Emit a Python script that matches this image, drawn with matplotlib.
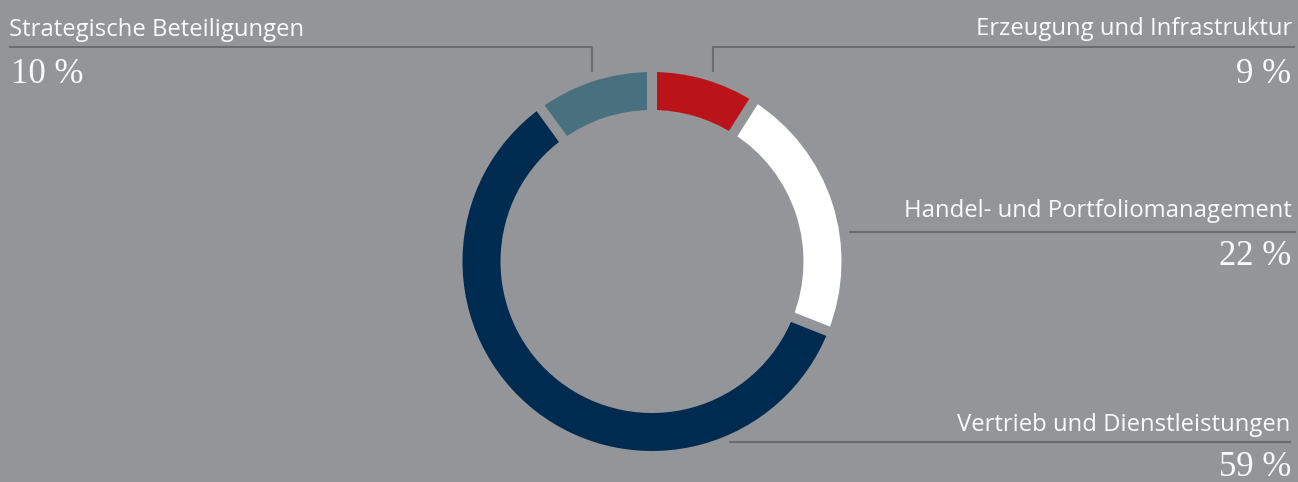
import matplotlib
matplotlib.use("Agg")
import matplotlib.pyplot as plt
import numpy as np

# Segment data (clockwise from 12 o'clock)
segments = ["Erzeugung und Infrastruktur", "Handel- und Portfoliomanagement",
            "Vertrieb und Dienstleistungen", "Strategische Beteiligungen"]
shares = [9, 22, 59, 10]
colors = ["#BA141A", "#FFFFFF", "#002B50", "#48707F"]

BG = "#939598"
LEADER = "#6B6C6F"
TXT = "#FAFAFA"

W, H = 1298, 482
fig = plt.figure(figsize=(W / 100, H / 100), dpi=100, facecolor=BG)
ax = fig.add_axes([0, 0, 1, 1])
ax.set_facecolor(BG)

cx, cy = 652, H - 261.5
R = 189.5
ring = 38

ax.pie(shares, colors=colors, startangle=90, counterclock=False,
       radius=R, center=(cx, cy),
       wedgeprops=dict(width=ring, linewidth=0))

# constant-width gaps between the segments
bounds = 90 - 360 * np.cumsum([0] + shares[:-1]) / sum(shares)
for a in np.deg2rad(bounds):
    ax.plot([cx, cx + (R + 5) * np.cos(a)], [cy, cy + (R + 5) * np.sin(a)],
            color=BG, lw=7.2, solid_capstyle="butt", zorder=5)

ax.set_xlim(0, W)
ax.set_ylim(0, H)
ax.set_aspect("equal")
ax.axis("off")


def y(p):
    return H - p


label_font = dict(family="Open Sans", size=17.2, color=TXT)
pct_font = dict(family="Liberation Serif", size=25, color=TXT)

# leader lines
lw = 1.5
ax.plot([10, 592, 592], [y(47), y(47), y(71)], color=LEADER, lw=lw)
ax.plot([713, 713, 1294], [y(71), y(47), y(47)], color=LEADER, lw=lw)
ax.plot([850, 1295], [y(231.5), y(231.5)], color=LEADER, lw=lw)
ax.plot([730, 1290], [y(442), y(442)], color=LEADER, lw=lw)

# labels and percentages
ax.text(9, y(36), segments[3], ha="left", va="baseline", **label_font)
ax.text(11, y(83), f"{shares[3]} %", ha="left", va="baseline", **pct_font)

ax.text(1292, y(35), segments[0], ha="right", va="baseline", **label_font)
ax.text(1291, y(83), f"{shares[0]} %", ha="right", va="baseline", **pct_font)

ax.text(1292, y(217), segments[1], ha="right", va="baseline", **label_font)
ax.text(1291, y(265), f"{shares[1]} %", ha="right", va="baseline", **pct_font)

ax.text(1290, y(431), segments[2], ha="right", va="baseline", **label_font)
ax.text(1291, y(476), f"{shares[2]} %", ha="right", va="baseline", **pct_font)

fig.savefig("out.png", dpi=100, facecolor=BG)
